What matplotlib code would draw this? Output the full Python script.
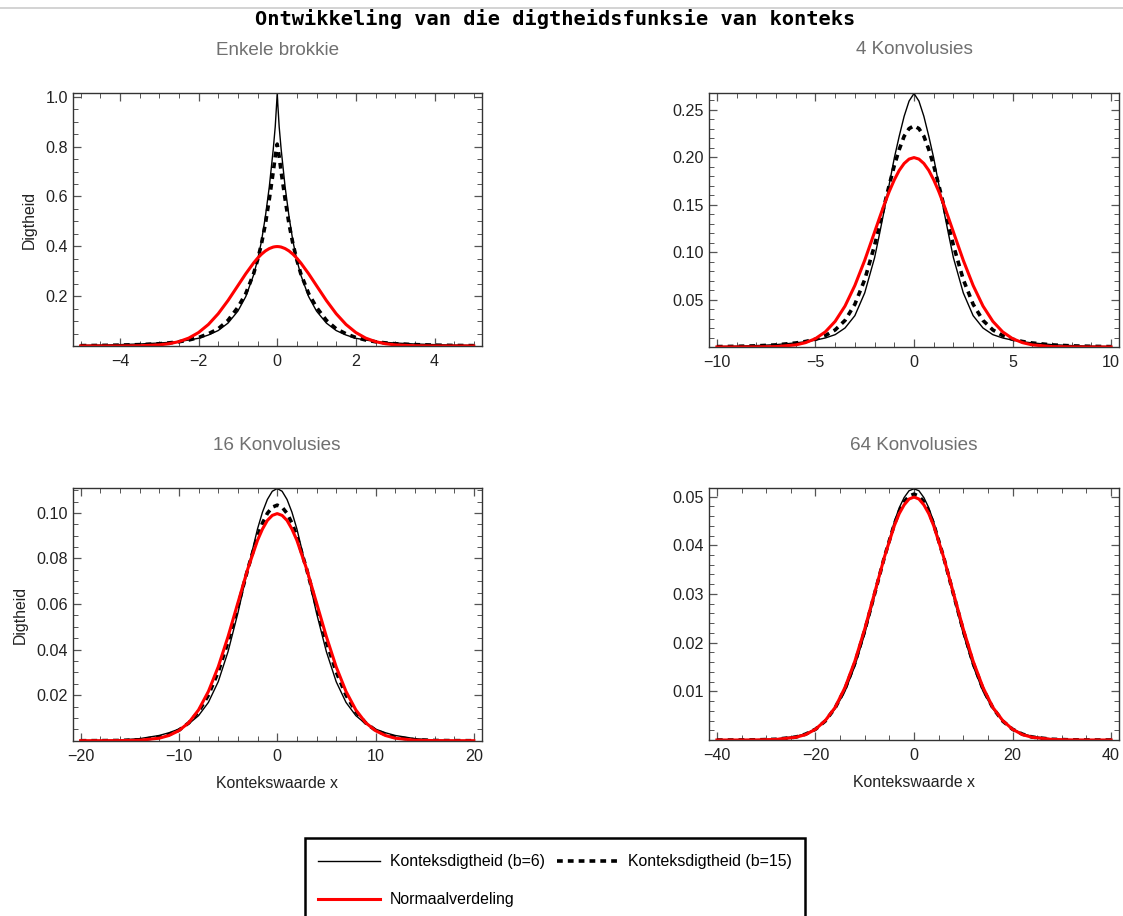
import numpy as np
import matplotlib
matplotlib.use("Agg")
import matplotlib.pyplot as plt
from matplotlib.ticker import MultipleLocator, FixedLocator, FormatStrFormatter
from matplotlib.lines import Line2D
from matplotlib.patches import Rectangle

plt.rcParams['font.family'] = ['Liberation Sans', 'DejaVu Sans']

# --- data (half curves, x >= 0; the densities are symmetric) ---
titles = ["Enkele brokkie", "4 Konvolusies", "16 Konvolusies", "64 Konvolusies"]

x1 = [0, 0.05, 0.1, 0.2, 0.3, 0.4, 0.5, 0.6, 0.8, 1.0, 1.25, 1.5, 1.75, 2.0, 2.25, 2.5, 2.75, 3.0,
      3.5, 4.0, 4.5, 5.0]
b6_1 = [1.01, 0.88, 0.79, 0.64, 0.52, 0.42, 0.345, 0.285, 0.198, 0.14, 0.092, 0.062, 0.044, 0.031,
        0.024, 0.018, 0.0145, 0.012, 0.008, 0.0055, 0.0038, 0.0027]
b15_1 = [0.81, 0.76, 0.70, 0.59, 0.49, 0.41, 0.345, 0.29, 0.21, 0.155, 0.103, 0.069, 0.049, 0.034,
         0.024, 0.017, 0.0125, 0.009, 0.0055, 0.0035, 0.0022, 0.0015]
norm_1 = [0.399, 0.3984, 0.397, 0.391, 0.3814, 0.3683, 0.3521, 0.3332, 0.2897, 0.242, 0.1826, 0.1295,
          0.0863, 0.054, 0.0317, 0.0175, 0.0091, 0.0044, 0.0009, 0.0001, 0.0, 0.0]

x2 = [0, 0.25, 0.5, 0.75, 1.0, 1.25, 1.5, 1.75, 2.0, 2.5, 3.0, 3.5, 4.0, 4.5, 5.0, 5.5, 6.0, 7.0,
      8.0, 9.0, 10.0]
b6_2 = [0.267, 0.259, 0.243, 0.222, 0.199, 0.172, 0.145, 0.119, 0.094, 0.057, 0.033, 0.020, 0.013,
        0.0095, 0.0072, 0.0056, 0.0043, 0.0025, 0.0015, 0.0009, 0.0005]
b15_2 = [0.233, 0.230, 0.222, 0.208, 0.191, 0.171, 0.150, 0.128, 0.107, 0.071, 0.045, 0.028, 0.018,
         0.012, 0.0082, 0.0058, 0.0042, 0.0022, 0.0012, 0.0007, 0.0004]
norm_2 = [0.1995, 0.1979, 0.1933, 0.186, 0.176, 0.1641, 0.1506, 0.136, 0.121, 0.0913, 0.0648, 0.0431,
          0.027, 0.0159, 0.0088, 0.0046, 0.0022, 0.0004, 0.0001, 0.0, 0.0]

x3 = [0, 0.5, 1, 1.5, 2, 3, 4, 5, 6, 7, 8, 9, 10, 11, 12, 14, 16, 18, 20]
b6_3 = [0.1107, 0.1095, 0.1059, 0.1003, 0.093, 0.0751, 0.056, 0.0391, 0.0259, 0.0168, 0.011, 0.0074,
        0.0051, 0.0035, 0.0023, 0.0009, 0.0003, 0.0001, 0.00003]
b15_3 = [0.1034, 0.1025, 0.0998, 0.0955, 0.0897, 0.0752, 0.059, 0.0434, 0.0302, 0.02, 0.0127, 0.0078,
         0.0046, 0.0027, 0.0015, 0.0004, 0.0001, 0.00003, 0.0]
norm_3 = [0.0997, 0.0989, 0.0967, 0.0929, 0.088, 0.0753, 0.0605, 0.0457, 0.0324, 0.0216, 0.0135, 0.0079,
          0.0044, 0.0023, 0.0011, 0.0002, 0.00003, 0.0, 0.0]

x4 = [0, 1, 2, 3, 4, 6, 8, 10, 12, 14, 16, 18, 20, 22, 24, 28, 32, 36, 40]
b6_4 = [0.0516, 0.0512, 0.0498, 0.0477, 0.0448, 0.0376, 0.0295, 0.0218, 0.0152, 0.01, 0.0064, 0.0039,
        0.0023, 0.0013, 0.00075, 0.00021, 0.00005, 0.00001, 0.0]
b15_4 = [0.0505, 0.0501, 0.0489, 0.0469, 0.0443, 0.0376, 0.03, 0.0225, 0.0158, 0.0105, 0.0066, 0.0039,
         0.0022, 0.0012, 0.0006, 0.00015, 0.00003, 0.0, 0.0]
norm_4 = [0.0499, 0.0495, 0.0483, 0.0465, 0.044, 0.0376, 0.0302, 0.0228, 0.0162, 0.0108, 0.0067, 0.004,
          0.0022, 0.0011, 0.00055, 0.00011, 0.00002, 0.0, 0.0]

panels = [(x1, b6_1, b15_1, norm_1), (x2, b6_2, b15_2, norm_2),
          (x3, b6_3, b15_3, norm_3), (x4, b6_4, b15_4, norm_4)]

x_lims = [5.2, 10.4, 20.8, 41.6]
y_tops = [1.013, 0.2675, 0.1108, 0.0517]
x_major = [2, 5, 10, 20]
x_minor = [0.5, 1, 2, 5]
y_major = [0.2, 0.05, 0.02, 0.01]
y_minor = [0.05, 0.01, 0.005, 0.002]
y_fmt = ['%.1f', '%.2f', '%.2f', '%.2f']


def mirror(x, y):
    x = np.asarray(x, float)
    y = np.asarray(y, float)
    return np.concatenate([-x[:0:-1], x]), np.concatenate([y[:0:-1], y])


W, H = 1123, 916
fig = plt.figure(figsize=(W / 100, H / 100), dpi=100)

# axes boxes in pixels: left, top, right, bottom
boxes = [(72.7, 93.5, 481.7, 346), (709, 93, 1119, 347),
         (72.7, 488.3, 481.7, 740.7), (709, 488.3, 1119, 740)]

handles = None
for i, (box, (x, y6, y15, yn)) in enumerate(zip(boxes, panels)):
    l, t, r, b = box
    ax = fig.add_axes([l / W, 1 - b / H, (r - l) / W, (b - t) / H])

    xs, ys = mirror(x, y6)
    h6, = ax.plot(xs, ys, color='black', lw=1.0, label='Konteksdigtheid (b=6)')
    xs, ys = mirror(x, y15)
    h15, = ax.plot(xs, ys, color='black', lw=2.6, ls=(0, (1.6, 1.4)), label='Konteksdigtheid (b=15)')
    xs, ys = mirror(x, yn)
    hn, = ax.plot(xs, ys, color='#ff0000', lw=2.2, label='Normaalverdeling')
    if handles is None:
        handles = [h6, hn, h15]

    ax.set_xlim(-x_lims[i], x_lims[i])
    ax.set_ylim(0, y_tops[i])

    xm = x_major[i]
    ax.xaxis.set_major_locator(FixedLocator(np.arange(-2, 3) * xm))
    ax.xaxis.set_minor_locator(MultipleLocator(x_minor[i]))
    ym = y_major[i]
    ax.yaxis.set_major_locator(FixedLocator(np.arange(1, 6) * ym))
    ax.yaxis.set_minor_locator(MultipleLocator(y_minor[i]))
    ax.yaxis.set_major_formatter(FormatStrFormatter(y_fmt[i]))

    ax.tick_params(which='both', direction='in', top=True, right=True, color='#555555',
                   labelsize=11.6, labelcolor='#222222')
    ax.tick_params(axis='x', which='major', pad=6)
    ax.tick_params(which='major', length=6, width=0.9)
    ax.tick_params(which='minor', length=3.5, width=0.7)
    for s in ax.spines.values():
        s.set_color('#333333')
        s.set_linewidth(1.0)

    cx = (l + r) / 2
    fig.text(cx / W, 1 - (t - 43) / H, titles[i], ha='center', va='center',
             fontsize=13.6, color='#707070')
    if i % 2 == 0:
        ax.set_ylabel('Digtheid', fontsize=11.4, color='#222222', labelpad=6)
    if i >= 2:
        ax.set_xlabel('Kontekswaarde x', fontsize=11.4, color='#222222', labelpad=8.5)

# top rule and title
fig.add_artist(Line2D([0, 1], [1 - 8 / H, 1 - 8 / H], color='#cccccc', lw=1.2))
fig.text(555 / W, 1 - 19 / H, 'Ontwikkeling van die digtheidsfunksie van konteks',
         ha='center', va='center', fontsize=14.7, fontweight='bold',
         family='DejaVu Sans Mono', color='black')

# legend box (runs off the bottom of the image)
fig.add_artist(Rectangle((305 / W, 1 - 940 / H), 500 / W, 102 / H, transform=fig.transFigure,
                         fill=False, edgecolor='black', lw=1.8, clip_on=False))
fig.legend(handles=handles, labels=[h.get_label() for h in handles], ncol=2,
           loc='upper left', bbox_to_anchor=(304 / W, 1 - 840 / H), frameon=False,
           fontsize=11.4, handlelength=3.9, handletextpad=0.6, columnspacing=0.8,
           labelspacing=1.45)

fig.savefig('out.png', dpi=100)
